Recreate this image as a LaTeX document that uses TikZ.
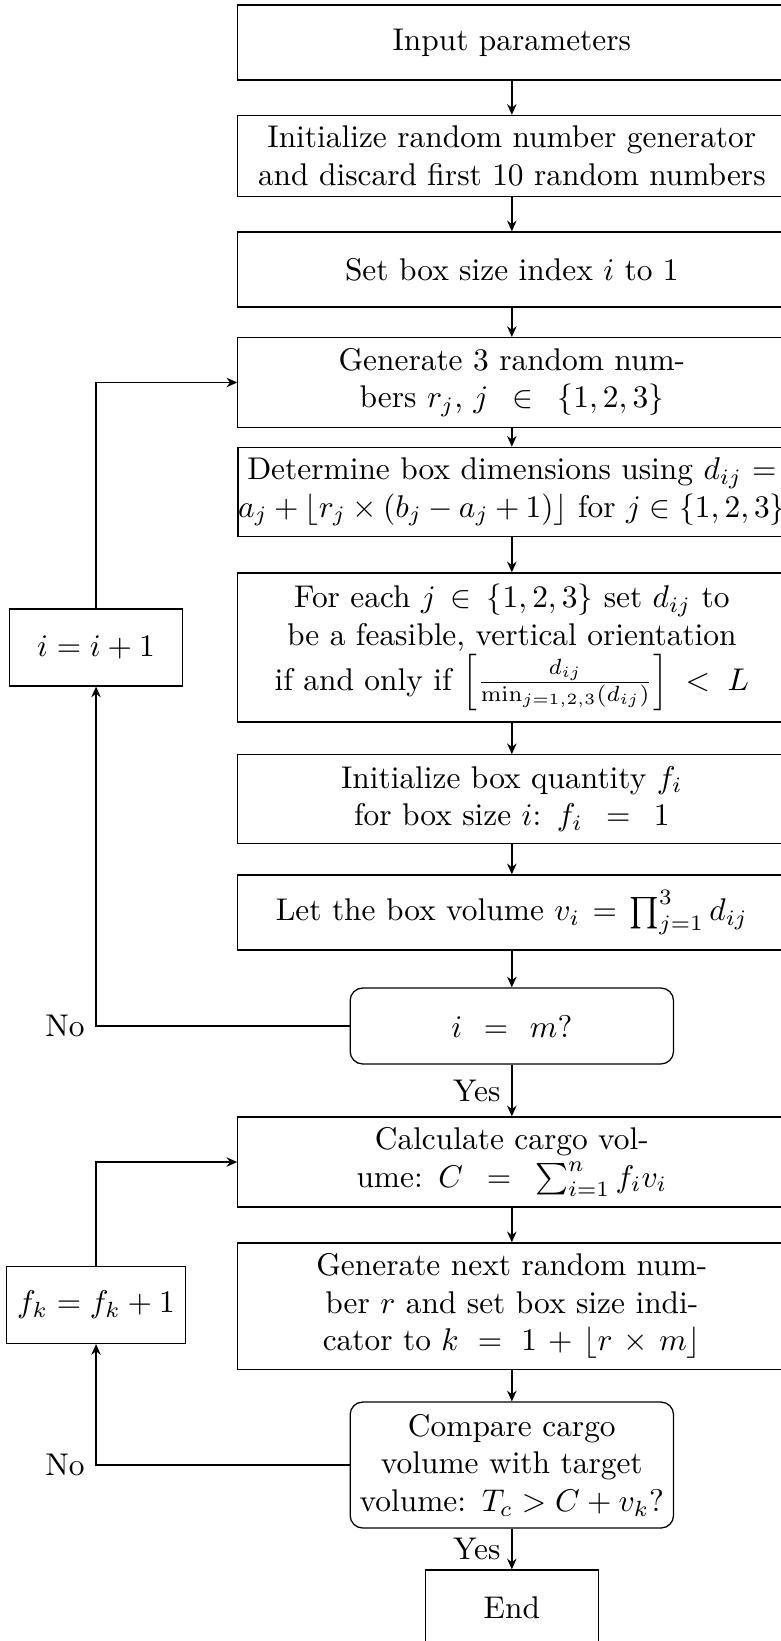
\documentclass[tikz,border=0pt]{standalone}
\usepackage{amsmath,amssymb}
\usepackage{tikz}
\usetikzlibrary{arrows.meta,positioning}
\tikzset{
  proc/.style={draw,rectangle,text width=5.9cm,align=center,minimum height=0.84cm},
  decide/.style={draw,rectangle,rounded corners=4pt,text width=3.45cm,inner sep=0.085cm,align=center,minimum height=0.85cm},
  side/.style={draw,rectangle,minimum width=1.93cm,minimum height=0.86cm},
  flow/.style={semithick,-{Stealth[length=3.4pt,width=3pt]}},
  lbl/.style={font=\normalsize},
}

\begin{document}
\begin{tikzpicture}[scale=1.0,>=Stealth]
    \useasboundingbox (0,0) rectangle (8.743,-18.371);
    % main column
    \node[proc] (inp) at (5.73,-0.476) {Input parameters};
    \node[proc,minimum height=0.90cm] (rng) at (5.73,-1.746) {Initialize random number generator and discard first 10 random numbers};
    \node[proc] (seti) at (5.73,-3.017) {Set box size index $i$ to 1};
    \node[proc,minimum height=1.0cm] (gen3) at (5.73,-4.282) {Generate 3 random num-\\bers $r_j$, $j \in \{1,2,3\}$};
    \node[proc,text width=6.13cm,inner xsep=0pt,minimum height=0.92cm] (dims) at (5.73,-5.508) {Determine box dimensions using $d_{ij} =$\\$a_j + \lfloor r_j \times (b_j - a_j + 1)\rfloor$ for $j \in \{1,2,3\}$};
    \node[proc,minimum height=1.67cm] (orient) at (5.73,-7.249) {For each $j \in \{1,2,3\}$ set $d_{ij}$ to\\be a feasible, vertical orientation\\if and only if $\left[\frac{d_{ij}}{\min_{j=1,2,3}(d_{ij})}\right]\,<\,L$};
    \node[proc,minimum height=0.99cm] (qty) at (5.73,-8.945) {Initialize box quantity $f_i$\\for box size $i$: $f_i = 1$};
    \node[proc] (vol) at (5.73,-10.215) {Let the box volume $v_i = \prod_{j=1}^{3} d_{ij}$};
    \node[decide] (im) at (5.73,-11.486) {$i = m$?};
    \node[proc,minimum height=1.0cm] (cargo) at (5.73,-13.009) {Calculate cargo vol-\\ume: $C = \sum_{i=1}^{n} f_i v_i$};
    \node[proc,minimum height=1.41cm] (nextr) at (5.73,-14.621) {Generate next random num-\\ber $r$ and set box size indi-\\cator to $k = 1 + \lfloor r \times m\rfloor$};
    \node[decide,minimum height=1.41cm] (cmp) at (5.73,-16.401) {Compare cargo\\volume with target\\volume: $T_c > C + v_k$?};
    \node[draw,rectangle,minimum width=1.94cm,minimum height=0.84cm] (end) at (5.73,-17.996) {End};
    % side boxes of the two loops
    \node[side] (inci) at (1.075,-7.249) {$i = i + 1$};
    \node[side] (incf) at (1.075,-14.61) {$f_k = f_k + 1$};

    \draw[flow] (inp) -- (rng);
    \draw[flow] (rng) -- (seti);
    \draw[flow] (seti) -- (gen3);
    \draw[flow] (gen3) -- (dims);
    \draw[flow] (dims) -- (orient);
    \draw[flow] (orient) -- (qty);
    \draw[flow] (qty) -- (vol);
    \draw[flow] (vol) -- (im);
    \draw[flow] (im) -- node[lbl,left] {Yes} (cargo);
    \draw[flow] (cargo) -- (nextr);
    \draw[flow] (nextr) -- (cmp);
    \draw[flow] (cmp) -- node[lbl,left] {Yes} (end);
    % first loop: next box size
    \draw[flow] (im.west) -| node[lbl,left] {No} (inci.south);
    \draw[flow] (inci.north) |- (gen3.west);
    % second loop: add one more box
    \draw[flow] (cmp.west) -| node[lbl,left] {No} (incf.south);
    \draw[flow] (incf.north) |- (cargo.west);
\end{tikzpicture}
\end{document}
